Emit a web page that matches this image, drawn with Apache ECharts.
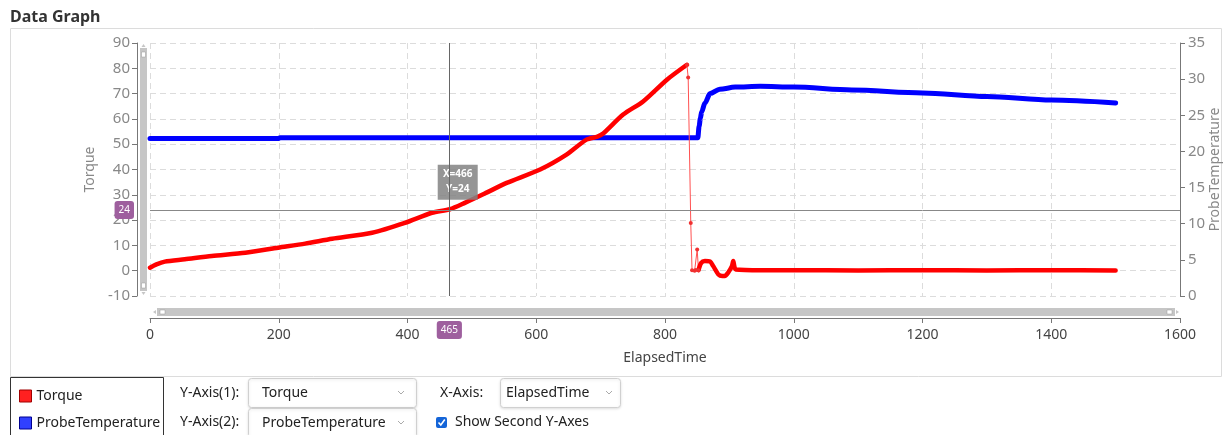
<!DOCTYPE html>
<html><head><meta charset="utf-8">
<script src="https://cdn.jsdelivr.net/npm/echarts@6/dist/echarts.min.js"></script>
<style>html,body{margin:0;padding:0;background:#fff;}#c{width:1225px;height:435px;}</style>
</head><body><div id="c"></div>
<script>
// ---- data ----
const xTicks = [0, 200, 400, 600, 800, 1000, 1200, 1400, 1600];
// Torque, rising part (dense samples drawn as a thick line)
const torqueRiseTime  = [0, 10, 23, 54, 96, 148, 199, 241, 283, 345, 396, 438, 466, 489, 520, 554, 606, 647, 678, 695, 704, 735, 766, 803, 834];
const torqueRiseValue = [1.2, 2.5, 3.6, 4.5, 5.8, 7.1, 9.1, 10.7, 12.6, 15.0, 18.9, 22.9, 24.3, 26.8, 30.5, 34.7, 40.0, 45.9, 51.8, 53.0, 54.2, 61.7, 66.9, 75.5, 81.4];
// Torque, sparse samples during the drop
const torqueDropTime  = [834, 836, 840, 842, 846, 848, 850, 852];
const torqueDropValue = [81.4, 76.4, 18.9, 0.2, 0.0, 0.3, 8.4, 0.2];
// Torque, after the drop
const torqueAfterTime  = [852, 856, 862, 870, 875, 883, 889, 893, 898, 904, 906, 910, 950, 1000, 1100, 1200, 1300, 1400, 1500];
const torqueAfterValue = [0.2, 3.0, 3.8, 3.6, 1.8, -1.5, -2.1, -2.1, -0.8, 1.8, 3.8, 0.5, 0.2, 0.2, 0.1, 0.2, 0.1, 0.2, 0.1];
// ProbeTemperature
const tempTime  = [0, 200, 202, 851, 853, 855, 857, 862, 870, 885, 909, 948, 1000, 1090, 1200, 1300, 1400, 1500];
const tempValue = [21.8, 21.8, 21.9, 21.9, 23.5, 24.6, 25.5, 26.7, 28.0, 28.6, 28.9, 29.0, 28.9, 28.5, 28.1, 27.6, 27.1, 26.7];
// crosshair readout
const cursorX = 466, cursorXLabel = 465, cursorY = 24;

const FONT = "'Noto Sans','Open Sans',sans-serif";
const zip = (a, b) => a.map((x, i) => [x, b[i]]);
const chart = echarts.init(document.getElementById('c'));

function txt(x, y, s, size, color, weight) {
  return {type:'text', x:x, y:y, z:50, style:{text:s, font:(weight||'normal')+' '+size+'px '+FONT, fill:color||'#222', textVerticalAlign:'middle'}};
}
function chevron(x, y) {
  return {type:'polyline', z:50, shape:{points:[[x,y],[x+3,y+3],[x+6,y]]}, style:{stroke:'#aaa', lineWidth:1, fill:null}};
}
function box(x, y, w, h) {
  return {type:'rect', z:40, shape:{x:x, y:y, width:w, height:h, r:3}, style:{fill:'#fff', stroke:'#d0d0d0', lineWidth:1, shadowBlur:3, shadowColor:'rgba(0,0,0,0.12)', shadowOffsetY:1}};
}

const pointerLabel = {show:true, backgroundColor:'#9e5f9e', color:'#fff', fontSize:10, fontFamily:FONT, padding:[4,4,4,4], precision:0, borderWidth:0, shadowBlur:0};
const plain = v => String(v);

chart.setOption({
  animation:false,
  grid:{left:150, right:45, top:43, bottom:139, containLabel:false, outerBoundsMode:'none'},
  legend:{
    orient:'vertical', left:14, top:384, height:60, itemWidth:12, itemHeight:12, itemGap:13, icon:'rect',
    textStyle:{fontSize:14, color:'#222', fontFamily:FONT},
    data:[{name:'Torque', itemStyle:{color:'#ff2020', borderColor:'#a00000', borderWidth:1}},
          {name:'ProbeTemperature', itemStyle:{color:'#3040ff', borderColor:'#000090', borderWidth:1}}]
  },
  xAxis:{
    type:'value', min:0, max:1600, interval:200, offset:22,
    name:'ElapsedTime', nameLocation:'middle', nameGap:33,
    nameTextStyle:{fontSize:14, color:'#444', fontFamily:FONT},
    axisLine:{show:true, onZero:false, lineStyle:{color:'#777'}},
    axisTick:{show:true, length:5, lineStyle:{color:'#777'}},
    axisLabel:{fontSize:14, color:'#444', fontFamily:FONT, margin:10, formatter:plain},
    splitLine:{show:true, lineStyle:{color:'#dcdcdc', type:[6,4]}},
    axisPointer:{show:true, type:'line', value:cursorXLabel, status:'show', snap:false, triggerTooltip:false,
      lineStyle:{color:'#666', width:1, type:'solid'}, label:pointerLabel}
  },
  yAxis:[{
    type:'value', min:-10, max:90, interval:10, offset:13, position:'left',
    name:'Torque', nameLocation:'middle', nameGap:40,
    nameTextStyle:{fontSize:14, color:'#888', fontFamily:FONT},
    axisLine:{show:true, onZero:false, lineStyle:{color:'#777'}},
    axisTick:{show:true, length:5, lineStyle:{color:'#777'}},
    axisLabel:{fontSize:15, color:'#888', fontFamily:FONT, margin:7, formatter:plain},
    splitLine:{show:true, lineStyle:{color:'#dcdcdc', type:[6,4]}},
    axisPointer:{show:true, type:'line', value:cursorY, status:'show', snap:false, triggerTooltip:false,
      lineStyle:{opacity:0, width:0}, label:pointerLabel}
  },{
    type:'value', min:0, max:35, interval:5, position:'right',
    name:'ProbeTemperature', nameLocation:'middle', nameGap:28, nameMoveOverlap:false,
    nameTextStyle:{fontSize:14, color:'#888', fontFamily:FONT},
    axisLine:{show:true, onZero:false, lineStyle:{color:'#777'}},
    axisTick:{show:true, length:5, lineStyle:{color:'#777'}},
    axisLabel:{fontSize:15, color:'#888', fontFamily:FONT, margin:8, formatter:plain},
    splitLine:{show:false}
  }],
  series:[
    {name:'ProbeTemperature', type:'line', yAxisIndex:1, data:zip(tempTime, tempValue), showSymbol:false,
     smooth:0.3, smoothMonotone:'x',
     itemStyle:{color:'#0000ff'}, lineStyle:{color:'#0000ff', width:5, cap:'round', join:'round'}},
    {name:'Torque', type:'line', yAxisIndex:0, data:zip(torqueRiseTime, torqueRiseValue), showSymbol:false,
     smooth:0.25,
     itemStyle:{color:'#ff0000'}, lineStyle:{color:'#ff0000', width:4.5, cap:'round', join:'round'},
     markLine:{silent:true, symbol:'none', label:{show:false}, lineStyle:{color:'#888', width:1, type:'solid'},
       data:[{yAxis:cursorY}]},
     markPoint:{silent:true, data:[{coord:[478, 35], symbol:'rect', symbolSize:[40,35],
       itemStyle:{color:'rgba(130,130,130,0.85)'},
       label:{show:true, formatter:'X=' + cursorX + '\nY=' + cursorY, color:'#fff', fontSize:10, fontWeight:'bold', fontFamily:FONT, lineHeight:15, align:'center'}}]}},
    {name:'Torque', type:'line', yAxisIndex:0, data:zip(torqueDropTime, torqueDropValue), showSymbol:true, symbol:'circle', symbolSize:4,
     itemStyle:{color:'#f03030'}, lineStyle:{color:'#ff5050', width:1}},
    {name:'Torque', type:'line', yAxisIndex:0, data:zip(torqueAfterTime, torqueAfterValue), showSymbol:false,
     smooth:0.25,
     itemStyle:{color:'#ff0000'}, lineStyle:{color:'#ff0000', width:4.5, cap:'round', join:'round'}}
  ],
  graphic:[
    txt(10, 17, 'Data Graph', 16, '#333', 'bold'),
    {type:'rect', z:-10, shape:{x:10.5, y:28.5, width:1211, height:348}, style:{fill:null, stroke:'#dcdcdc', lineWidth:1}},
    {type:'rect', z:45, shape:{x:10.5, y:377.5, width:153, height:60}, style:{fill:null, stroke:'#333', lineWidth:1}},
    // vertical scroll bar
    {type:'rect', z:30, shape:{x:140, y:48, width:7, height:243}, style:{fill:'#c6c6c6'}},
    {type:'rect', z:31, shape:{x:141.5, y:52, width:4, height:5}, style:{fill:'#fff', stroke:'#999', lineWidth:0.5}},
    {type:'rect', z:31, shape:{x:141.5, y:283, width:4, height:5}, style:{fill:'#fff', stroke:'#999', lineWidth:0.5}},
    {type:'polygon', z:31, shape:{points:[[141.5,47],[145.5,47],[143.5,44]]}, style:{fill:'#c6c6c6'}},
    {type:'polygon', z:31, shape:{points:[[141.5,292],[145.5,292],[143.5,295]]}, style:{fill:'#c6c6c6'}},
    // horizontal scroll bar
    {type:'rect', z:30, shape:{x:157, y:308, width:1018, height:8}, style:{fill:'#c6c6c6'}},
    {type:'rect', z:31, shape:{x:160, y:310, width:5, height:4}, style:{fill:'#fff', stroke:'#999', lineWidth:0.5}},
    {type:'rect', z:31, shape:{x:1167, y:310, width:5, height:4}, style:{fill:'#fff', stroke:'#999', lineWidth:0.5}},
    {type:'polygon', z:31, shape:{points:[[156,310],[156,314],[153,312]]}, style:{fill:'#c6c6c6'}},
    {type:'polygon', z:31, shape:{points:[[1176,310],[1176,314],[1179,312]]}, style:{fill:'#c6c6c6'}},
    // controls
    txt(180, 393, 'Y-Axis(1):', 14),
    box(248.5, 378.5, 168, 29), txt(262, 393, 'Torque', 14), chevron(398, 391),
    txt(180, 422, 'Y-Axis(2):', 14),
    box(248.5, 408.5, 168, 29), txt(262, 423, 'ProbeTemperature', 14), chevron(398, 421),
    txt(440, 393, 'X-Axis:', 14),
    box(500.5, 378.5, 120, 29), txt(506, 393, 'ElapsedTime', 14), chevron(606, 391),
    {type:'rect', z:50, shape:{x:436, y:417, width:11, height:11, r:2}, style:{fill:'#1565d8'}},
    {type:'polyline', z:51, shape:{points:[[438.5,422.5],[440.8,425],[444.8,419.5]]}, style:{stroke:'#fff', lineWidth:1.6, fill:null}},
    txt(455, 422, 'Show Second Y-Axes', 14)
  ]
});
</script></body></html>
